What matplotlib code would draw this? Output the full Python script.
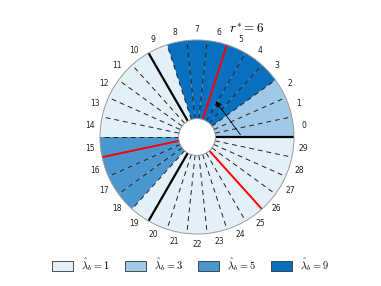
import matplotlib.pyplot as plt
import numpy as np
from matplotlib.patches import Wedge, Circle, Patch

plt.rcParams['mathtext.fontset'] = 'cm'

# data
sector_ids = list(range(30))
lam_values = [3, 3, 3, 9, 9, 9, 9, 9, 9, 1, 1, 1, 1, 1, 1, 5, 5, 5, 5,
              1, 1, 1, 1, 1, 1, 1, 1, 1, 1, 1]
black_bounds = [0, 10, 20]
red_bounds = [6, 16, 26]
r_star = 6
legend_levels = [1, 3, 5, 9]

colors = {1: '#e4f0f8', 3: '#9fc9e6', 5: '#4a97d0', 9: '#0870bf'}

n = len(sector_ids)
step = 360.0 / n
r_in = 0.19
r_out = 1.0

fig = plt.figure(figsize=(3.81, 2.86), dpi=100)
ax = fig.add_axes([0, 0, 1, 1])
R = 97.0
cx, cy = 197.0, 149.0  # centre in pixels from left / bottom
ax.set_xlim(-cx / R, (381 - cx) / R)
ax.set_ylim(-cy / R, (286 - cy) / R)
ax.set_aspect('equal')
ax.axis('off')

for i, lam in zip(sector_ids, lam_values):
    w = Wedge((0, 0), r_out, i * step, (i + 1) * step, facecolor=colors[lam],
              edgecolor='none', zorder=1)
    ax.add_patch(w)
    a = np.deg2rad((i + 0.5) * step)
    ax.text(1.105 * np.cos(a), 1.105 * np.sin(a), str(i), fontsize=5.5,
            ha='center', va='center', color='#222222')

# boundary lines
for b in range(n):
    a = np.deg2rad(b * step)
    xs = [r_in * np.cos(a), r_out * np.cos(a)]
    ys = [r_in * np.sin(a), r_out * np.sin(a)]
    if b in black_bounds:
        ax.plot(xs, ys, color='black', lw=1.6, zorder=3, solid_capstyle='butt')
    elif b in red_bounds:
        ax.plot(xs, ys, color='red', lw=1.4, zorder=3, solid_capstyle='butt')
    else:
        ax.plot(xs, ys, color='#222222', lw=0.7, ls=(0, (5, 4)), zorder=2)

ax.add_patch(Circle((0, 0), r_out, facecolor='none', edgecolor='#9a9a9a', lw=0.7, zorder=4))
ax.add_patch(Circle((0, 0), r_in, facecolor='white', edgecolor='#9a9a9a', lw=0.7, zorder=5))

# arrow towards r*
a_tip = np.deg2rad((r_star - 0.5) * step)
ax.annotate('', xy=(0.43 * np.cos(a_tip), 0.43 * np.sin(a_tip)), xytext=(0.465, 0.0),
            arrowprops=dict(arrowstyle='-|>', color='black', lw=0.6, mutation_scale=9),
            zorder=6)
ax.text(0.515, 1.115, r'$r^{*}=%d$' % r_star, fontsize=9.5, ha='center', va='center')

handles = [Patch(facecolor=colors[l], edgecolor='#333333', lw=0.6) for l in legend_levels]
labels = [r'$\hat{\lambda}_b = %d$' % l for l in legend_levels]
fig.legend(handles, labels, loc='center', bbox_to_anchor=(0.5, 1 - 265 / 286), ncol=4,
           frameon=False, fontsize=7.5, handlelength=2.0, handleheight=1.0,
           columnspacing=1.45, handletextpad=0.8)

plt.savefig('out.png', dpi=100)
